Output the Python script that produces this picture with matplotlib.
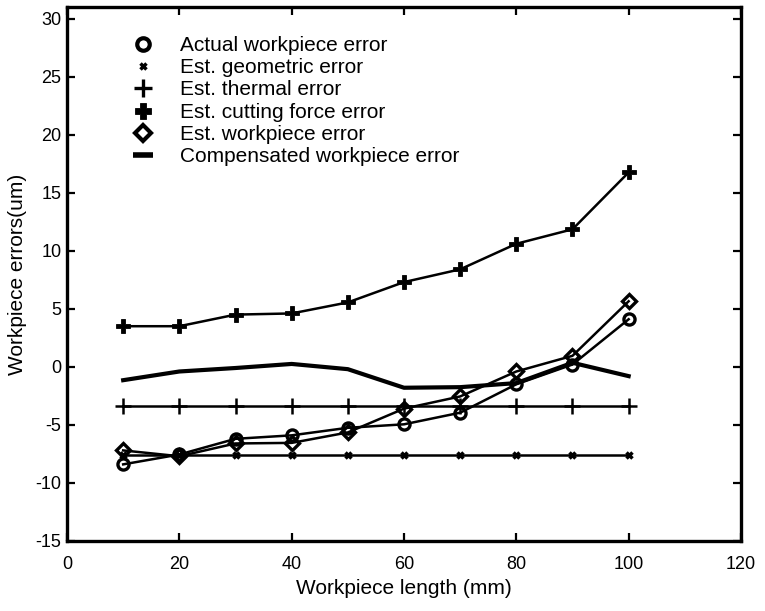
import numpy as np
import matplotlib
matplotlib.use("Agg")
import matplotlib.pyplot as plt

plt.rcParams['font.family'] = ['Liberation Sans', 'DejaVu Sans']
plt.rcParams['axes.unicode_minus'] = False

# === DATA ===
length_mm = [10, 20, 30, 40, 50, 60, 70, 80, 90, 100]

actual_err   = [-8.4, -7.55, -6.2, -5.9, -5.25, -4.95, -3.95, -1.5, 0.2, 4.1]
geometric    = [-7.6, -7.6, -7.6, -7.6, -7.6, -7.6, -7.6, -7.6, -7.6, -7.6]
thermal      = [-3.35, -3.35, -3.35, -3.35, -3.35, -3.35, -3.35, -3.35, -3.35, -3.35]
cutting      = [3.5, 3.5, 4.5, 4.6, 5.55, 7.3, 8.4, 10.6, 11.85, 16.75]
est_wp_err   = [-7.2, -7.7, -6.6, -6.55, -5.65, -3.6, -2.55, -0.4, 0.95, 5.65]
compensated  = [-1.15, -0.4, -0.1, 0.25, -0.2, -1.8, -1.75, -1.4, 0.35, -0.8]

labels = ['Actual workpiece error', 'Est. geometric error', 'Est. thermal error',
          'Est. cutting force error', 'Est. workpiece error',
          'Compensated workpiece error']

xticks = [0, 20, 40, 60, 80, 100, 120]
yticks = [-15, -10, -5, 0, 5, 10, 15, 20, 25, 30]

# === PLOT ===
fig = plt.figure(figsize=(7.65, 6.11), dpi=100)
ax = fig.add_axes([0.0876, 0.1146, 0.881, 0.874])

k = 'black'
lw = 1.8
ax.plot(length_mm, cutting, color=k, lw=lw, marker='P', ms=10, mew=0.6)
ax.plot(length_mm, thermal, color=k, lw=lw, marker='+', ms=12, mew=1.8)
ax.plot(length_mm, geometric, color=k, lw=lw, marker='x', ms=5, mew=2.5)
ax.plot(length_mm, compensated, color=k, lw=3.0)
ax.plot(length_mm, actual_err, color=k, lw=lw, marker='o', ms=8, mew=2.4,
        mfc='none')
ax.plot(length_mm, est_wp_err, color=k, lw=lw, marker='D', ms=7, mew=2.4,
        mfc='none')

# legend shows the markers only
h = [
    ax.plot([], [], ls='none', color=k, marker='o', ms=9, mew=3, mfc='none')[0],
    ax.plot([], [], ls='none', color=k, marker='x', ms=5, mew=2.5)[0],
    ax.plot([], [], ls='none', color=k, marker='+', ms=13, mew=2.4)[0],
    ax.plot([], [], ls='none', color=k, marker='P', ms=11, mew=0.6)[0],
    ax.plot([], [], ls='none', color=k, marker='D', ms=8, mew=3, mfc='none')[0],
    ax.plot([], [], ls='none', color=k, marker='_', ms=14, mew=4)[0],
]
ax.legend(h, labels, loc='upper left', bbox_to_anchor=(0.097, 0.946),
          frameon=False, fontsize=15, handlelength=1.0, handletextpad=1.28,
          labelspacing=0.16, borderpad=0, borderaxespad=0)

# === FORMATTING ===
ax.set_xlim(0, 120)
ax.set_ylim(-15, 31)
ax.set_xticks(xticks)
ax.set_yticks(yticks)
ax.tick_params(direction='in', length=6, width=1.6, labelsize=13,
               top=True, right=True)
ax.tick_params(axis='x', pad=11)
ax.tick_params(axis='y', pad=4)
for s in ax.spines.values():
    s.set_linewidth(2.4)

ax.set_xlabel("Workpiece length (mm)", fontsize=15, labelpad=4)
ax.set_ylabel("Workpiece errors(um)", fontsize=15, labelpad=6)

fig.savefig("out.png", dpi=100)
